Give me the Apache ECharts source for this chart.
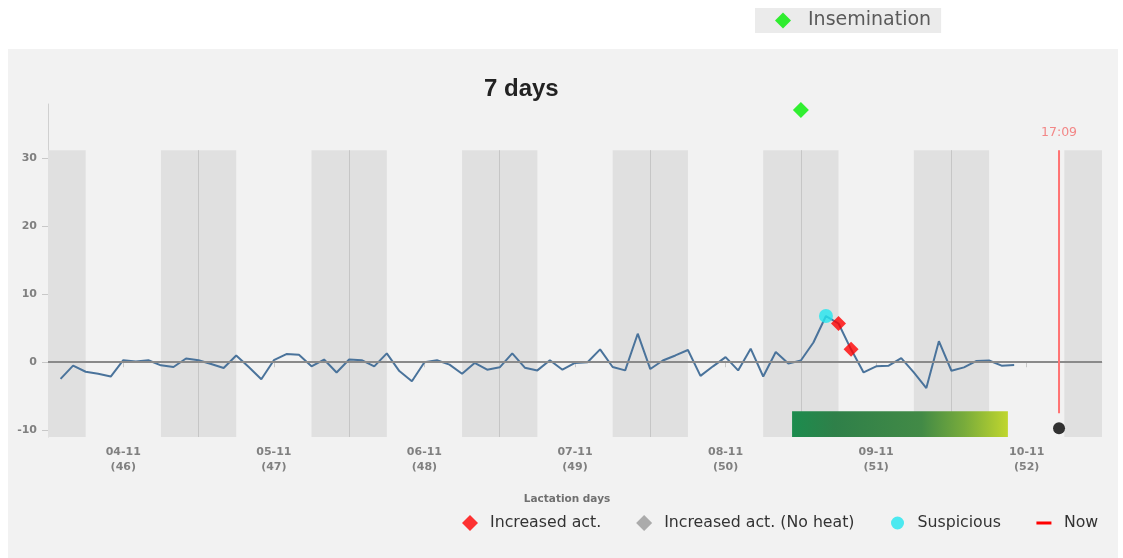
<!DOCTYPE html>
<html><head><meta charset="utf-8">
<script src="https://cdn.jsdelivr.net/npm/echarts@6/dist/echarts.min.js"></script>
<style>html,body{margin:0;padding:0;background:#fff;}#chart{width:1123px;height:558px;}</style>
</head><body><div id="chart"></div>
<script>
// ---- data ----
const title = '7 days';
const START_HOUR = 2;   // first sample, hours from start of window
const STEP_HOURS = 2;   // sampling interval
const activity = [
  -2.45, -0.5, -1.4, -1.7, -2.1, 0.3, 0.1, 0.3, -0.45, -0.7,
  0.55, 0.3, -0.25, -0.85, 1.0, -0.7, -2.5, 0.3, 1.2, 1.1,
  -0.6, 0.4, -1.5, 0.4, 0.3, -0.6, 1.3, -1.3, -2.8, 0.0,
  0.3, -0.35, -1.7, -0.1, -1.1, -0.75, 1.3, -0.8, -1.2, 0.3,
  -1.1, -0.1, 0.0, 1.9, -0.7, -1.2, 4.2, -1.0, 0.25, 1.0,
  1.8, -2.0, -0.6, 0.75, -1.2, 2.0, -2.1, 1.5, -0.2, 0.25,
  2.9, 6.8, 5.7, 1.9, -1.5, -0.6, -0.5, 0.6, -1.5, -3.8,
  3.1, -1.25, -0.75, 0.2, 0.25, -0.5, -0.4
];
const increasedAct = [[126, 5.7], [128, 1.9]];
const increasedNoHeat = [];
const suspicious = [[124, 6.8]];
const insemination = [[120, 37.1]];
const nowHour = 161.15;
const nowLabel = '17:09';
const nowRange = [-7.5, 31.2];
const nowDot = [[161.15, -9.7]];
const heatBar = [[118.6, 153.0, -7.2]];   // [from hour, to hour, top value]
const nightBands = [[0, 6], [18, 30], [42, 54], [66, 78], [90, 102], [114, 126], [138, 150], [162, 168]];
const midnights = [24, 48, 72, 96, 120, 144];
const BAND_TOP = 31.2;
const tickHours = [12, 36, 60, 84, 108, 132, 156];
const tickDates = ['04-11', '05-11', '06-11', '07-11', '08-11', '09-11', '10-11'];
const lactDays = [46, 47, 48, 49, 50, 51, 52];
const yTicks = [-10, 0, 10, 20, 30];
const X_MIN = 0, X_MAX = 168, Y_MIN = -11, Y_MAX = 38;

// ---- chart ----
const activityData = activity.map((v, i) => [START_HOUR + STEP_HOURS * i, v]);
const axisFont = { color: '#808080', fontSize: 11, fontWeight: 'bold', fontFamily: 'DejaVu Sans' };
const chart = echarts.init(document.getElementById('chart'), null, { renderer: 'canvas' });

const pad30 = ' M0,0h0.01v0.01h-0.01z M29.99,15.99h0.01v0.01h-0.01z';
const nowIcon = 'path://M7.5,6.5h15v3h-15z' + pad30;
const diamondIcon = 'path://M15,0L23,8L15,16L7,8Z' + pad30;
const circleIcon = 'path://M15,1.5A6.5,6.5 0 1 1 14.99,1.5Z' + pad30;
const diamondIcon40 = 'path://M20,0L28,8L20,16L12,8Z M0,0h0.01v0.01h-0.01z M39.99,15.99h0.01v0.01h-0.01z';

const heatGradient = new echarts.graphic.LinearGradient(0, 0, 1, 0, [
  { offset: 0, color: '#1c8c4e' }, { offset: 0.2, color: '#2f8049' },
  { offset: 0.6, color: '#428a46' }, { offset: 0.8, color: '#79ac3b' }, { offset: 1, color: '#c0d62e' }
]);

chart.setOption({
  animation: false,
  backgroundColor: '#ffffff',
  graphic: [{
    type: 'rect', left: 8, top: 49, z: -10, silent: true,
    shape: { width: 1110, height: 509 },
    style: { fill: '#f2f2f2' }
  }],
  title: {
    text: title, left: 479, top: 72,
    textStyle: { fontSize: 24, fontWeight: 'bold', color: '#222', fontFamily: 'Liberation Sans' }
  },
  grid: { left: 48, right: 21, top: 104, bottom: 121 },
  legend: [{
    left: 450, top: 510, itemWidth: 30, itemHeight: 16, itemGap: 28, selectedMode: false,
    textStyle: { fontSize: 15.75, color: '#333', fontFamily: 'DejaVu Sans' },
    data: [
      { name: 'Increased act.', icon: diamondIcon },
      { name: 'Increased act. (No heat)', icon: diamondIcon },
      { name: 'Suspicious', icon: circleIcon },
      { name: 'Now', icon: nowIcon, itemStyle: { color: '#ff0000' } }
    ]
  }, {
    left: 755, top: 8, itemWidth: 40, itemHeight: 16, selectedMode: false,
    padding: [3, 10, 3, 8], backgroundColor: '#ebebeb',
    textStyle: { fontSize: 19, color: '#5a5a5a', fontFamily: 'DejaVu Sans' },
    data: [{ name: 'Insemination', icon: diamondIcon40 }]
  }],
  xAxis: {
    type: 'value', min: X_MIN, max: X_MAX,
    name: 'Lactation days', nameLocation: 'middle', nameGap: 57,
    nameTextStyle: { color: '#707070', fontSize: 10.5, fontWeight: 'bold', fontFamily: 'DejaVu Sans', padding: [0, 16, 0, 0] },
    axisLine: { show: true, lineStyle: { color: '#d0d0d0', width: 1 } },
    axisTick: { show: true, customValues: tickHours, length: 5, lineStyle: { color: '#c8c8c8' } },
    axisLabel: Object.assign({
      customValues: tickHours, margin: 8, lineHeight: 15,
      formatter: v => { const i = tickHours.indexOf(v); return i < 0 ? '' : tickDates[i] + '\n(' + lactDays[i] + ')'; }
    }, axisFont),
    splitLine: { show: false }
  },
  yAxis: {
    type: 'value', min: Y_MIN, max: Y_MAX,
    axisLine: { show: true, lineStyle: { color: '#d0d0d0', width: 1 } },
    axisTick: { show: true, customValues: yTicks, length: 6, lineStyle: { color: '#c8c8c8' } },
    axisLabel: Object.assign({ customValues: yTicks, margin: 11 }, axisFont),
    splitLine: { show: false }
  },
  series: [
    {
      name: 'bands', type: 'line', data: [], z: 1, silent: true,
      markArea: {
        silent: true, z: 1, itemStyle: { color: '#e0e0e0' },
        data: nightBands.map(b => [{ coord: [b[0], Y_MIN] }, { coord: [b[1], BAND_TOP] }])
      },
      markLine: {
        silent: true, z: 1, symbol: 'none', label: { show: false },
        lineStyle: { color: '#c6c6c6', width: 1, type: 'solid' },
        data: midnights.map(h => [{ coord: [h, Y_MIN] }, { coord: [h, BAND_TOP] }])
      }
    },
    {
      name: 'heat', type: 'custom', z: 2, silent: true, data: heatBar,
      encode: { x: [0, 1], y: 2 },
      renderItem: (params, api) => {
        const p0 = api.coord([api.value(0), api.value(2)]);
        const p1 = api.coord([api.value(1), Y_MIN]);
        return { type: 'rect', shape: { x: p0[0], y: p0[1], width: p1[0] - p0[0], height: p1[1] - p0[1] },
                 style: { fill: heatGradient } };
      }
    },
    {
      name: 'Activity', type: 'line', data: activityData, z: 3, symbol: 'none',
      lineStyle: { color: '#4a739b', width: 2 }, itemStyle: { color: '#4a739b' },
      markLine: {
        silent: true, z: 4, symbol: 'none', label: { show: false },
        lineStyle: { color: '#8a8a8a', width: 2, type: 'solid' },
        data: [{ yAxis: 0 }]
      }
    },
    {
      name: 'Now', type: 'line', z: 6, symbol: 'none',
      data: [[nowHour, nowRange[0]], [nowHour, nowRange[1]]],
      lineStyle: { color: '#ff7373', width: 2 }, itemStyle: { color: '#ff0000' }
    },
    {
      name: 'nowLabel', type: 'scatter', z: 6, symbolSize: 1, itemStyle: { color: 'rgba(0,0,0,0)' },
      data: [[nowHour, nowRange[1]]],
      label: { show: true, position: 'top', distance: 10, formatter: nowLabel, color: '#f26b6b', fontSize: 12.5, fontFamily: 'DejaVu Sans' }
    },
    {
      name: 'nowDot', type: 'scatter', z: 6, symbol: 'circle', symbolSize: 12,
      itemStyle: { color: '#000' }, data: nowDot
    },
    {
      name: 'Suspicious', type: 'scatter', z: 5, symbol: 'circle', symbolSize: 14,
      itemStyle: { color: '#22e6ef' }, data: suspicious
    },
    {
      name: 'Increased act.', type: 'scatter', z: 6, symbol: 'diamond', symbolSize: 15,
      itemStyle: { color: '#ff0000' }, data: increasedAct
    },
    {
      name: 'Increased act. (No heat)', type: 'scatter', z: 6, symbol: 'diamond', symbolSize: 15,
      itemStyle: { color: '#999999' }, data: increasedNoHeat
    },
    {
      name: 'Insemination', type: 'scatter', z: 6, symbol: 'diamond', symbolSize: 16,
      itemStyle: { color: '#00ee00' }, data: insemination
    }
  ]
});
</script></body></html>
